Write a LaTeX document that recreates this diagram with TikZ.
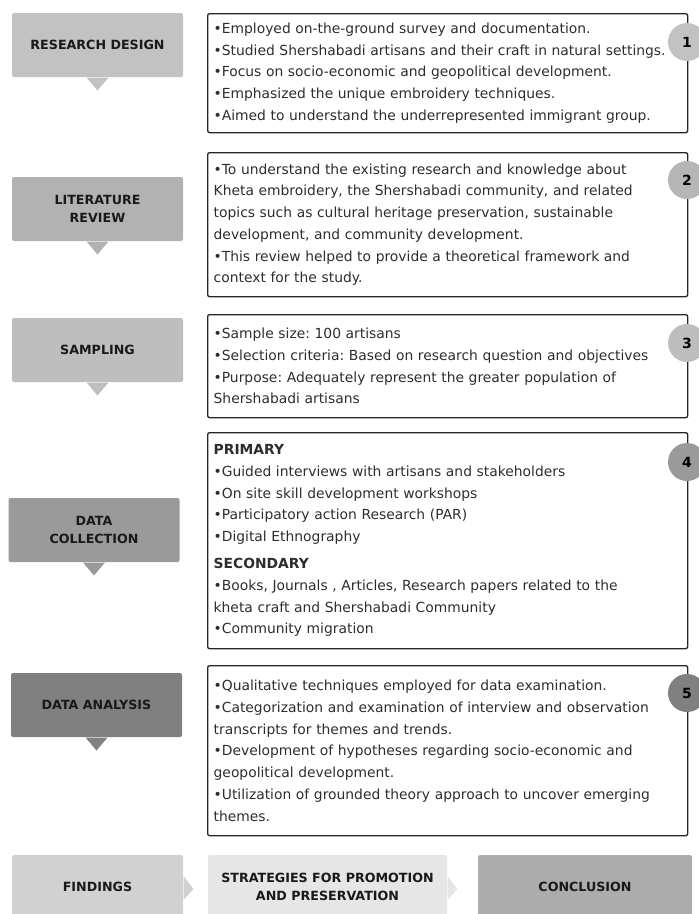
\documentclass[tikz,border=0pt]{standalone}
\usepackage{fontspec}
\setmainfont{DejaVu Sans}
\usetikzlibrary{calc}
\frenchspacing

\definecolor{rdgray}{RGB}{194,194,194}
\definecolor{lrgray}{RGB}{178,178,178}
\definecolor{sagray}{RGB}{190,190,190}
\definecolor{dcgray}{RGB}{154,154,154}
\definecolor{dagray}{RGB}{128,128,128}
\definecolor{figray}{RGB}{209,209,209}
\definecolor{spgray}{RGB}{230,230,230}
\definecolor{cogray}{RGB}{172,172,172}
\definecolor{bodytext}{RGB}{45,45,45}

\tikzset{every picture/.style={line width=0.75pt}}
\tikzset{
  stagebox/.style={rounded corners=1.5pt, inner sep=0pt, minimum width=128.25pt, minimum height=48pt, align=center, text=black!90, font=\fontsize{9.5}{13.5}\selectfont\bfseries},
  notebox/.style={draw=black!85, line width=1pt, rounded corners=1.5pt, anchor=north west, text width=351pt, inner xsep=4.5pt, inner ysep=0pt, align=left, text=bodytext, font=\fontsize{10.4}{16.3}\selectfont},
  numdot/.style={circle, minimum size=28.5pt, inner sep=0pt, text=black, font=\fontsize{10.5}{12}\selectfont\bfseries},
}

\begin{document}
\begin{tikzpicture}[x=0.75pt,y=0.75pt,yscale=-1,xscale=1]
\useasboundingbox (0,0) rectangle (699,914);
\clip (0,0) rectangle (699,914);

%Stage callouts
\node [stagebox, fill=rdgray] (rd) at (97.5,45) {RESEARCH DESIGN};
\fill [rdgray] ($(rd.south)+(-11,0)$) -- ($(rd.south)+(0,13)$) -- ($(rd.south)+(11,0)$) -- cycle ;
\node [stagebox, fill=lrgray] (lr) at (97.5,209) {LITERATURE\\REVIEW};
\fill [lrgray] ($(lr.south)+(-11,0)$) -- ($(lr.south)+(0,13)$) -- ($(lr.south)+(11,0)$) -- cycle ;
\node [stagebox, fill=sagray] (sa) at (97.5,350) {SAMPLING};
\fill [sagray] ($(sa.south)+(-11,0)$) -- ($(sa.south)+(0,13)$) -- ($(sa.south)+(11,0)$) -- cycle ;
\node [stagebox, fill=dcgray] (dc) at (94,530) {DATA\\COLLECTION};
\fill [dcgray] ($(dc.south)+(-11,0)$) -- ($(dc.south)+(0,13)$) -- ($(dc.south)+(11,0)$) -- cycle ;
\node [stagebox, fill=dagray] (da) at (96.5,705) {DATA ANALYSIS};
\fill [dagray] ($(da.south)+(-11,0)$) -- ($(da.south)+(0,13)$) -- ($(da.south)+(11,0)$) -- cycle ;

%Text boxes
\node [notebox, minimum height=89.25pt] (rdtext) at (207,13) {%
•Employed on-the-ground survey and documentation.\\
•Studied Shershabadi artisans and their craft in natural settings.\\
•Focus on socio-economic and geopolitical development.\\
•Emphasized the unique embroidery techniques.\\
•Aimed to understand the underrepresented immigrant group.};
\node [notebox, minimum height=108pt] (lrtext) at (207,152) {%
•To understand the existing research and knowledge about\\
Kheta embroidery, the Shershabadi community, and related\\
topics such as cultural heritage preservation, sustainable\\
development, and community development.\\
•This review helped to provide a theoretical framework and\\
context for the study.};
\node [notebox, minimum height=77.25pt] (satext) at (207,314) {%
•Sample size: 100 artisans\\
•Selection criteria: Based on research question and objectives\\
•Purpose: Adequately represent the greater population of\\
Shershabadi artisans};
\node [notebox, minimum height=162pt] (dctext) at (207,432) {%
\textbf{PRIMARY}\\
•Guided interviews with artisans and stakeholders\\
•On site skill development workshops\\
•Participatory action Research (PAR)\\
•Digital Ethnography\\[4pt]
\textbf{SECONDARY}\\
•Books, Journals , Articles, Research papers related to the\\
kheta craft and Shershabadi Community\\
•Community migration};
\node [notebox, minimum height=127.5pt] (datext) at (207,665) {%
•Qualitative techniques employed for data examination.\\
•Categorization and examination of interview and observation\\
transcripts for themes and trends.\\
•Development of hypotheses regarding socio-economic and\\
geopolitical development.\\
•Utilization of grounded theory approach to uncover emerging\\
themes.};

%Step numbers
\node [numdot, fill=rdgray] (n1) at (687,42) {1};
\node [numdot, fill=lrgray!95!white] (n2) at (687,180) {2};
\node [numdot, fill=sagray] (n3) at (687,343) {3};
\node [numdot, fill=dcgray] (n4) at (687,462) {4};
\node [numdot, fill=dagray] (n5) at (687,693) {5};

%Bottom row
\node [stagebox, fill=figray, minimum width=128.25pt] (fi) at (97.5,887) {FINDINGS};
\fill [figray] ($(fi.east)+(0,-11)$) -- ($(fi.east)+(10,2)$) -- ($(fi.east)+(0,13)$) -- cycle ;
\node [stagebox, fill=spgray, minimum width=179.25pt] (sp) at (327.5,887) {STRATEGIES FOR PROMOTION\\AND PRESERVATION};
\fill [spgray] ($(sp.east)+(0,-11)$) -- ($(sp.east)+(10,2)$) -- ($(sp.east)+(0,13)$) -- cycle ;
\node [stagebox, fill=cogray, minimum width=160.5pt] (co) at (585,887) {CONCLUSION};

\end{tikzpicture}
\end{document}
